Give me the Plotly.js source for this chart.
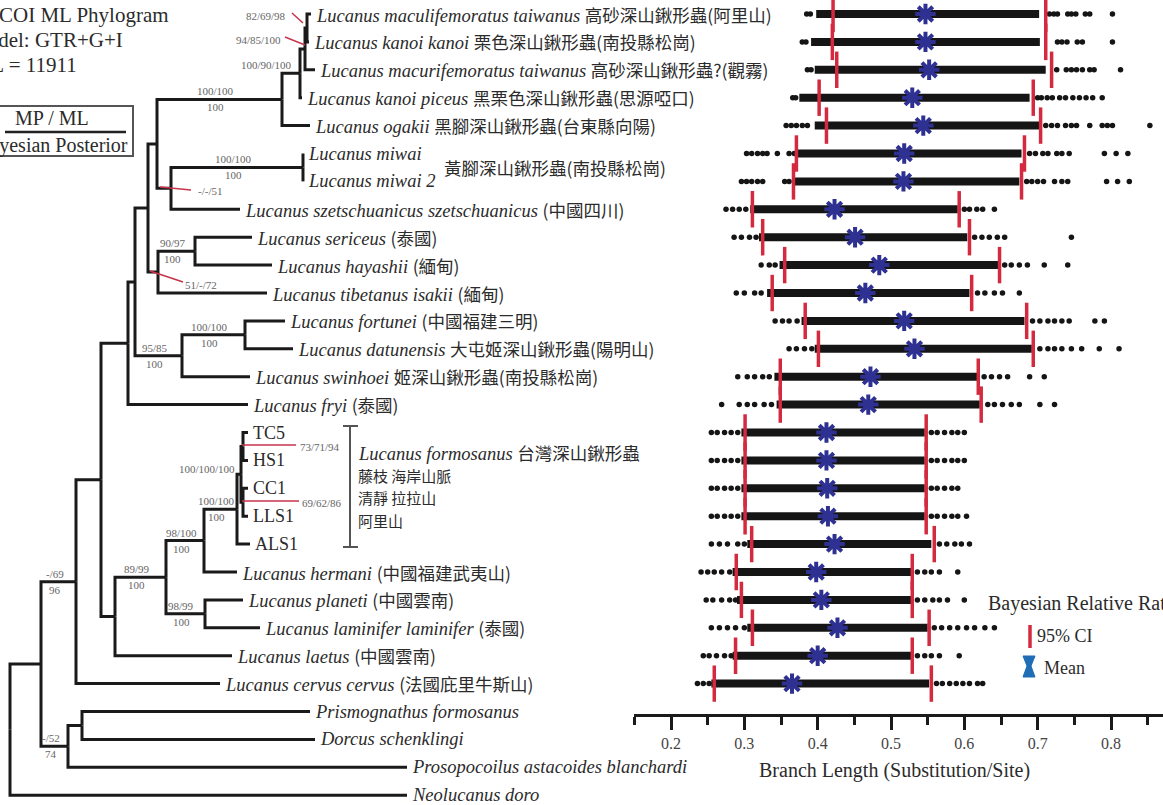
<!DOCTYPE html>
<html><head><meta charset="utf-8">
<script src="https://cdn.plot.ly/plotly-3.0.1.min.js"></script>
<style>html,body{margin:0;padding:0;overflow:hidden;background:#fff}#chart{width:1163px;height:805px}</style>
</head><body><div id="chart"></div>
<script>
// ---------------- DATA ----------------
const taxaLatin = ['Lucanus maculifemoratus taiwanus','Lucanus kanoi kanoi','Lucanus macurifemoratus taiwanus','Lucanus kanoi piceus','Lucanus ogakii','Lucanus miwai','Lucanus miwai 2','Lucanus szetschuanicus szetschuanicus','Lucanus sericeus','Lucanus hayashii','Lucanus tibetanus isakii','Lucanus fortunei','Lucanus datunensis','Lucanus swinhoei','Lucanus fryi','TC5','HS1','CC1','LLS1','ALS1','Lucanus hermani','Lucanus planeti','Lucanus laminifer laminifer','Lucanus laetus','Lucanus cervus cervus','Prismognathus formosanus','Dorcus schenklingi','Prosopocoilus astacoides blanchardi','Neolucanus doro'];
const taxaChinese = ['高砂深山鍬形蟲(阿里山)','栗色深山鍬形蟲(南投縣松崗)','高砂深山鍬形蟲?(觀霧)','黑栗色深山鍬形蟲(思源啞口)','黑腳深山鍬形蟲(台東縣向陽)','','','(中國四川)','(泰國)','(緬甸)','(緬甸)','(中國福建三明)','大屯姬深山鍬形蟲(陽明山)','姬深山鍬形蟲(南投縣松崗)','(泰國)','','','','','','(中國福建武夷山)','(中國雲南)','(泰國)','(中國雲南)','(法國庇里牛斯山)','','','',''];
const specimenCodes = ['TC5','HS1','CC1','LLS1','ALS1'];
const formosanusSites = ['藤枝 海岸山脈','清靜 拉拉山','阿里山'];

// tree: internal nodes (depth in phylogram units)
const nodeIds    = ['root','A','B','E','F','O','P','R','T','V','W','X','U','Mw','S','Ss','Q','Qf','G','H','I','K','L','M','N','J','C','D'];
const nodeParent = [null,'root','A','B','E','F','O','P','R','T','V','W','R','U','P','S','O','Q','E','G','H','I','K','L','L','H','A','C'];
const nodeDepth  = [10,41,76,101,128,135,148,157,282,300,305,307,171,303,158,195,182,245,115,166,204,237,241,243,243,205,68,82];
// leaves (same order as taxa)
const leafParent = ['X','X','W','V','T','Mw','Mw','U','Ss','Ss','S','Qf','Qf','Q','F','M','M','N','N','K','I','J','J','G','B','D','D','C','root'];
const leafDepth  = [311,309,315,302,310,303,303,240,252,272,267,285,293,250,248,248,248,248,248,250,237,243,260,232,220,310,315,407,407];

// node supports MP/ML over Bayesian posterior
const supportNode   = ['T','Mw','Ss','Qf','Q','K','I','H','J','B','C'];
const supportMPML   = ['100/100','100/100','90/97','100/100','95/85','100/100','98/100','89/99','98/99','-/69','-/52'];
const supportBayes  = ['100','100','100','100','100','100','100','100','100','96','74'];
const tripleNode    = ['V','L','X','W','U','S','M','N'];
const tripleSupport = ['100/90/100','100/100/100','82/69/98','94/85/100','-/-/51','51/-/72','73/71/94','69/62/86'];

// Bayesian relative rate (branch length, substitution/site), rows 1-25
const bandLo = [0.398,0.391,0.396,0.375,0.396,0.371,0.367,0.308,0.320,0.348,0.331,0.378,0.396,0.341,0.344,0.296,0.296,0.296,0.296,0.304,0.284,0.290,0.304,0.284,0.255];
const bandHi = [0.702,0.703,0.711,0.689,0.703,0.678,0.675,0.591,0.604,0.648,0.607,0.682,0.692,0.618,0.621,0.546,0.546,0.546,0.546,0.555,0.528,0.528,0.550,0.528,0.552];
const ciLo   = [0.421,0.420,0.426,0.402,0.412,0.371,0.367,0.311,0.325,0.355,0.338,0.383,0.401,0.349,0.349,0.301,0.301,0.301,0.301,0.310,0.289,0.296,0.311,0.288,0.259];
const ciHi   = [0.711,0.711,0.719,0.694,0.704,0.682,0.678,0.593,0.607,0.648,0.610,0.685,0.694,0.619,0.623,0.548,0.548,0.548,0.548,0.559,0.529,0.529,0.552,0.529,0.555];
const meanRate = [0.547,0.547,0.552,0.529,0.544,0.518,0.517,0.423,0.451,0.484,0.465,0.518,0.532,0.472,0.469,0.412,0.412,0.413,0.414,0.423,0.398,0.405,0.427,0.400,0.365];
const outliers = [
 [0.385,0.390,0.716,0.722,0.727,0.741,0.746,0.752,0.765,0.771,0.802],
 [0.379,0.384,0.727,0.733,0.740,0.754,0.761,0.802],
 [0.386,0.391,0.726,0.739,0.746,0.753,0.761,0.771,0.777,0.813],
 [0.366,0.370,0.700,0.705,0.713,0.720,0.730,0.738,0.748,0.757,0.766,0.775,0.788],
 [0.357,0.364,0.371,0.379,0.386,0.711,0.719,0.727,0.738,0.746,0.753,0.771,0.788,0.795,0.802,0.853],
 [0.303,0.310,0.318,0.325,0.331,0.345,0.361,0.368,0.689,0.697,0.707,0.714,0.726,0.733,0.743,0.791,0.807,0.823],
 [0.296,0.303,0.310,0.318,0.325,0.355,0.361,0.685,0.692,0.700,0.708,0.723,0.733,0.741,0.794,0.809,0.825],
 [0.275,0.284,0.293,0.302,0.600,0.607,0.617,0.625,0.641],
 [0.286,0.296,0.307,0.316,0.614,0.624,0.634,0.645,0.655,0.746],
 [0.323,0.334,0.342,0.655,0.664,0.675,0.686,0.709,0.741],
 [0.289,0.300,0.314,0.323,0.618,0.628,0.641,0.652,0.675],
 [0.342,0.352,0.361,0.372,0.693,0.703,0.714,0.723,0.733,0.743,0.778,0.791],
 [0.361,0.371,0.382,0.392,0.703,0.714,0.723,0.733,0.746,0.760,0.784,0.811],
 [0.291,0.304,0.314,0.325,0.334,0.627,0.637,0.648,0.659,0.689,0.709],
 [0.269,0.293,0.304,0.314,0.327,0.337,0.632,0.641,0.652,0.664,0.675,0.703,0.723],
 [0.255,0.263,0.273,0.282,0.291,0.555,0.563,0.573,0.583,0.591,0.600],
 [0.255,0.263,0.273,0.282,0.291,0.555,0.563,0.573,0.583,0.591,0.600],
 [0.255,0.263,0.273,0.282,0.291,0.555,0.563,0.573,0.583,0.591],
 [0.255,0.263,0.273,0.282,0.291,0.555,0.563,0.573,0.583,0.591,0.603],
 [0.255,0.266,0.277,0.291,0.300,0.566,0.576,0.587,0.596,0.607],
 [0.241,0.250,0.259,0.269,0.280,0.536,0.546,0.555,0.566,0.591],
 [0.248,0.257,0.269,0.280,0.288,0.536,0.546,0.557,0.566,0.577,0.600],
 [0.255,0.266,0.277,0.288,0.300,0.559,0.569,0.580,0.591,0.603,0.614,0.628,0.641],
 [0.244,0.252,0.262,0.273,0.282,0.536,0.546,0.555,0.566,0.593],
 [0.236,0.244,0.252,0.562,0.570,0.580,0.589,0.598,0.607,0.618,0.625]
];
const xTickVals = [0.2,0.3,0.4,0.5,0.6,0.7,0.8];

// ---------------- LAYOUT HELPERS ----------------
const W = 1163, H = 805;
const ROW_TOP = 14, ROW_STEP = 27.9;
const SERIF = '"Liberation Serif","Times New Roman",serif';
const CJK = 'Noto Sans CJK TC';
const TXT = '#2b2b2b';
const px = v => v / W;
const py = v => 1 - v / H;
const rowPx = r => ROW_TOP + (r - 1) * ROW_STEP;

// ---------------- TREE GEOMETRY ----------------
const parentOf = {}, depthOf = {}, yOf = {}, kids = {};
nodeIds.forEach((id, i) => { parentOf[id] = nodeParent[i]; depthOf[id] = nodeDepth[i]; });
leafParent.forEach((p, i) => { const id = 'leaf' + i; parentOf[id] = p; depthOf[id] = leafDepth[i]; yOf[id] = i + 1; });
Object.keys(parentOf).forEach(id => { const p = parentOf[id]; if (p) (kids[p] = kids[p] || []).push(id); });
function getY(id) {
  if (yOf[id] !== undefined) return yOf[id];
  const ys = kids[id].map(getY);
  yOf[id] = (Math.min(...ys) + Math.max(...ys)) / 2;
  return yOf[id];
}
getY('root');
const tx = [], ty = [];
Object.keys(parentOf).forEach(id => {
  const p = parentOf[id]; if (!p) return;
  tx.push(depthOf[p], depthOf[p], depthOf[id], null);
  ty.push(yOf[p], yOf[id], yOf[id], null);
});

const traces = [];
traces.push({x: tx, y: ty, xaxis: 'x', yaxis: 'y', mode: 'lines', line: {color: '#1a1a1a', width: 3}, hoverinfo: 'skip'});

// ---------------- RATE PLOT ----------------
const bx = [], by = [], ox = [], oy = [], cx = [], cy = [];
bandLo.forEach((lo, i) => {
  bx.push(lo, bandHi[i], null); by.push(i + 1, i + 1, null);
  outliers[i].forEach(v => { ox.push(v); oy.push(i + 1); });
  cx.push(ciLo[i], ciHi[i]); cy.push(i + 1, i + 1);
});
traces.push({x: bx, y: by, xaxis: 'x2', yaxis: 'y', mode: 'lines', line: {color: '#151515', width: 8}, hoverinfo: 'skip'});
traces.push({x: ox, y: oy, xaxis: 'x2', yaxis: 'y', mode: 'markers', marker: {color: '#151515', size: 5.5, symbol: 'circle'}, hoverinfo: 'skip'});
traces.push({x: cx, y: cy, xaxis: 'x2', yaxis: 'y', mode: 'markers', marker: {symbol: 'line-ns', size: 26, color: '#d42a40', line: {color: '#d42a40', width: 3.5}}, hoverinfo: 'skip'});
traces.push({x: meanRate, y: meanRate.map((_, i) => i + 1), xaxis: 'x2', yaxis: 'y', mode: 'markers', marker: {symbol: 'asterisk-open', size: 17, color: '#2e3192', line: {color: '#2e3192', width: 4}}, hoverinfo: 'skip'});

// ---------------- ANNOTATIONS ----------------
const ann = [];
function note(text, x, y, opts) {
  ann.push(Object.assign({text, x: px(x), y: py(y), xref: 'paper', yref: 'paper', showarrow: false, xanchor: 'center', yanchor: 'middle', font: {family: SERIF, size: 11, color: '#666'}}, opts || {}));
}
const cjkSpan = (t, size) => '<span style="font-family:' + CJK + ';font-size:' + size + 'px">' + t + '</span>';
// taxon labels
taxaLatin.forEach((name, i) => {
  const isCode = specimenCodes.includes(name);
  let t = isCode ? name : '<i>' + name + '</i>';
  if (taxaChinese[i]) t += ' ' + cjkSpan(taxaChinese[i], 17.5);
  ann.push({text: t, x: leafDepth[i] + 3, y: i + 1, xref: 'x', yref: 'y', showarrow: false, xanchor: 'left', yanchor: 'middle', font: {family: SERIF, size: isCode ? 18 : 18.5, color: TXT}});
});
// miwai shared label
note(cjkSpan('黃腳深山鍬形蟲(南投縣松崗)', 17.5), 442, 167, {xanchor: 'left', font: {family: SERIF, size: 18, color: TXT}});
// formosanus bracket text
note('<i>Lucanus formosanus</i> ' + cjkSpan('台灣深山鍬形蟲', 17.5), 356, 452, {xanchor: 'left', font: {family: SERIF, size: 18.5, color: TXT}});
formosanusSites.forEach((t, k) => note(t, 356, 475 + k * 22.5, {xanchor: 'left', font: {family: CJK, size: 15, color: TXT}}));

// support values
const midDepth = id => (depthOf[parentOf[id]] + depthOf[id]) / 2;
supportNode.forEach((id, i) => {
  const x = midDepth(id) - 4, y = rowPx(yOf[id]);
  note(supportMPML[i], x, y - 8);
  note(supportBayes[i], x, y + 8);
});
const triplePos = {V: [266, 65], L: [207, 469], X: [266, 16], W: [258, 40], U: [210, 191], S: [201, 285], M: [320, 447], N: [322, 503]};
tripleNode.forEach((id, i) => note(tripleSupport[i], triplePos[id][0], triplePos[id][1]));

// header text
note('COI ML Phylogram', 171, 15, {xanchor: 'right', font: {family: SERIF, size: 21, color: TXT}});
note('Model: GTR+G+I', 125, 40, {xanchor: 'right', font: {family: SERIF, size: 21, color: TXT}});
note('-lnL = 11911', 79, 65, {xanchor: 'right', font: {family: SERIF, size: 21, color: TXT}});
note('MP / ML', 52, 118, {font: {family: SERIF, size: 20, color: TXT}});
note('Bayesian Posterior', 130, 145, {xanchor: 'right', font: {family: SERIF, size: 20, color: TXT}});

// rate plot legend & axis title
note('Bayesian Relative Rate', 986, 603, {xanchor: 'left', font: {family: SERIF, size: 20, color: TXT}});
note('95% CI', 1035, 636, {xanchor: 'left', font: {family: SERIF, size: 18, color: TXT}});
note('Mean', 1042, 668, {xanchor: 'left', font: {family: SERIF, size: 18, color: TXT}});
note('Branch Length (Substitution/Site)', 894, 770, {font: {family: SERIF, size: 20, color: TXT}});

// ---------------- SHAPES ----------------
const shapes = [];
function seg(x0, y0, x1, y1, color, width) {
  shapes.push({type: 'line', xref: 'paper', yref: 'paper', x0: px(x0), y0: py(y0), x1: px(x1), y1: py(y1), line: {color, width}});
}
// MP/ML box
shapes.push({type: 'rect', xref: 'paper', yref: 'paper', x0: px(-10), x1: px(133), y0: py(156), y1: py(106), line: {color: '#555', width: 2}});
seg(5, 132, 126, 132, '#222', 2.5);
// red pointers
seg(292, 13, 303, 23, '#c8334a', 1.5);
seg(285, 37, 305, 45, '#c8334a', 1.5);
seg(160, 187, 191, 190, '#c8334a', 1.5);
seg(150, 271, 183, 282, '#c8334a', 1.5);
seg(242, 445, 296, 445, '#c8334a', 1.5);
seg(242, 501, 299, 501, '#c8334a', 1.5);
// formosanus bracket
seg(350, 426, 350, 547, '#555', 2);
seg(343, 426, 358, 426, '#555', 2);
seg(343, 547, 358, 547, '#555', 2);
// legend symbols
seg(1030, 625, 1030, 648, '#d42a40', 3.5);
const hg = [[1023, 656], [1035, 656], [1031, 666], [1035, 677], [1023, 677], [1027, 666]];
shapes.push({type: 'path', xref: 'paper', yref: 'paper', path: 'M' + hg.map(p => px(p[0]) + ',' + py(p[1])).join(' L') + ' Z', fillcolor: '#1f6db4', line: {color: '#1f6db4', width: 1}});

// ---------------- LAYOUT ----------------
const x2Start = 0.15, x2PxStart = 634.35, pxPerUnit = 733.3;
const layout = {
  width: W, height: H, margin: {l: 0, r: 0, t: 0, b: 0, pad: 0},
  paper_bgcolor: '#fff', plot_bgcolor: 'rgba(0,0,0,0)', showlegend: false, hovermode: false,
  xaxis: {domain: [0, 1], range: [0, W], visible: false, fixedrange: true},
  yaxis: {domain: [0, 1], range: [1 + (H - ROW_TOP) / ROW_STEP, 1 - ROW_TOP / ROW_STEP], visible: false, fixedrange: true},
  xaxis2: {domain: [x2PxStart / W, 1], range: [x2Start, x2Start + (W - x2PxStart) / pxPerUnit], anchor: 'free', position: py(715), side: 'bottom',
    showline: true, linecolor: '#1a1a1a', linewidth: 3, showgrid: false, zeroline: false,
    tickmode: 'array', tickvals: xTickVals, ticktext: xTickVals.map(v => v.toFixed(1)),
    ticks: 'outside', ticklen: 13, tickwidth: 3, tickcolor: '#1a1a1a',
    minor: {ticks: 'outside', dtick: 0.05, tick0: 0.15, ticklen: 8, tickwidth: 3, tickcolor: '#1a1a1a', showgrid: false},
    tickfont: {family: SERIF, size: 16, color: '#444'}, fixedrange: true},
  annotations: ann, shapes: shapes
};
Plotly.newPlot('chart', traces, layout, {staticPlot: true, displayModeBar: false});
</script>
</body></html>
